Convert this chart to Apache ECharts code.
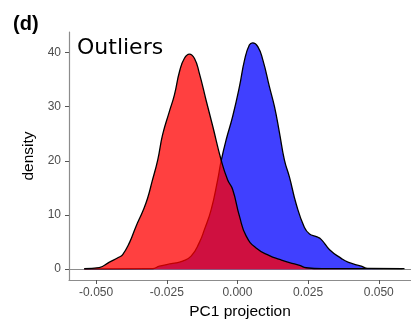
<!DOCTYPE html>
<html>
<head>
<meta charset="utf-8">
<script src="https://cdn.jsdelivr.net/npm/echarts@6/dist/echarts.min.js"></script>
<style>
  html, body { margin: 0; padding: 0; background: #fff; }
  #chart { width: 411px; height: 320px; }
</style>
</head>
<body>
<div id="chart"></div>
<script>
// PC1 projection values and density
const redX = [-0.0542, -0.0489, -0.0453, -0.0420, -0.0406, -0.0382, -0.0359, -0.0335, -0.0318, -0.0302,
  -0.0282, -0.0265, -0.0241, -0.0223, -0.0205, -0.0188, -0.0170, -0.0152, -0.0135, -0.0111,
  -0.0087, -0.0058, -0.0035, -0.0017, 0.0007, 0.0031, 0.0066, 0.0113, 0.0149, 0.0184,
  0.0220, 0.0243, 0.0300, 0.0591];
const redY = [0.1, 0.3, 1.3, 2.2, 2.7, 4.9, 7.9, 10.7, 13.1, 16.2,
  20.2, 24.8, 29.1, 32.2, 36.5, 38.9, 39.7, 38.9, 36.2, 31.2,
  26.3, 20.2, 16.5, 14.7, 9.8, 6.1, 3.9, 2.5, 1.8, 1.2,
  0.7, 0.26, 0.1, 0.1];

const blueX = [-0.0542, -0.0300, -0.0276, -0.0229, -0.0194, -0.0164, -0.0135, -0.0117, -0.0093, -0.0070,
  -0.0058, -0.0040, -0.0017, 0.0007, 0.0025, 0.0042, 0.0054, 0.0072, 0.0090, 0.0113,
  0.0131, 0.0149, 0.0166, 0.0184, 0.0208, 0.0237, 0.0255, 0.0279, 0.0296, 0.0326,
  0.0367, 0.0391, 0.0438, 0.0461, 0.0584];
const blueY = [0.05, 0.1, 0.55, 1.05, 1.5, 2.4, 4.9, 7.3, 11, 16.5,
  19.9, 23.9, 28.2, 33.7, 38.6, 41.4, 41.8, 41.1, 38.6, 33.7,
  30.0, 25.1, 20.2, 17.0, 12.0, 7.7, 6.5, 6.0, 5.5, 3.6,
  2.0, 1.3, 0.55, 0.13, 0.1];

const xTicks = [-0.05, -0.025, 0, 0.025, 0.05];
const yTicks = [0, 10, 20, 30, 40];

const chart = echarts.init(document.getElementById("chart"));

// red is drawn over blue, so blue's outline shows through it
const densitySeries = (name, xs, ys, fill, z) => ({
  name,
  type: "line",
  z,
  data: xs.map((x, i) => [x, ys[i]]),
  showSymbol: false,
  smooth: 0.5,
  lineStyle: { color: "#000", width: 1.3 },
  areaStyle: { color: fill, opacity: 0.75 },
});

chart.setOption({
  animation: false,
  title: [
    {
      text: "(d)",
      left: 8,
      top: 9,
      textStyle: { fontFamily: "Liberation Sans", fontSize: 20, fontWeight: "bold", color: "#000" },
    },
    {
      text: "Outliers",
      left: 72,
      top: 32,
      textStyle: { fontFamily: "DejaVu Sans", fontSize: 22, fontWeight: "normal", color: "#000" },
    },
  ],
  grid: { left: 69, right: 0, top: 32, bottom: 40, outerBoundsMode: "none" },
  xAxis: [
    {
      type: "value",
      min: -0.0596,
      max: 0.0614,
      name: "PC1 projection",
      nameLocation: "middle",
      nameGap: 22,
      nameTextStyle: { fontFamily: "Liberation Sans", fontSize: 15.5, color: "#000" },
      axisLine: { onZero: false, lineStyle: { color: "#8c8c8c", width: 1.2 } },
      axisTick: { customValues: xTicks, length: 4, lineStyle: { color: "#555" } },
      axisLabel: {
        customValues: xTicks,
        formatter: (v) => v.toFixed(3),
        margin: 7,
        fontFamily: "Liberation Sans",
        fontSize: 12,
        color: "#4d4d4d",
      },
      splitLine: { show: false },
    },
    {
      type: "value",
      position: "top",
      min: -0.0596,
      max: 0.0614,
      axisLine: { show: true, lineStyle: { color: "#8c8c8c", width: 1.2 } },
      axisTick: { show: false },
      axisLabel: { show: false },
      splitLine: { show: false },
    },
  ],
  yAxis: {
    type: "value",
    min: -2,
    max: 43.8,
    name: "density",
    nameLocation: "middle",
    nameGap: 28,
    nameTextStyle: { fontFamily: "Liberation Sans", fontSize: 15.5, color: "#000" },
    axisLine: { show: true, onZero: false, lineStyle: { color: "#8c8c8c", width: 1.2 } },
    axisTick: { show: true, customValues: yTicks, length: 4, lineStyle: { color: "#555" } },
    axisLabel: {
      customValues: yTicks,
      margin: 8,
      fontFamily: "Liberation Sans",
      fontSize: 12,
      color: "#4d4d4d",
    },
    splitLine: { show: false },
  },
  series: [
    densitySeries("Inliers", blueX, blueY, "#0000ff", 2),
    densitySeries("Outliers", redX, redY, "#ff0000", 3),
  ],
});
</script>
</body>
</html>
